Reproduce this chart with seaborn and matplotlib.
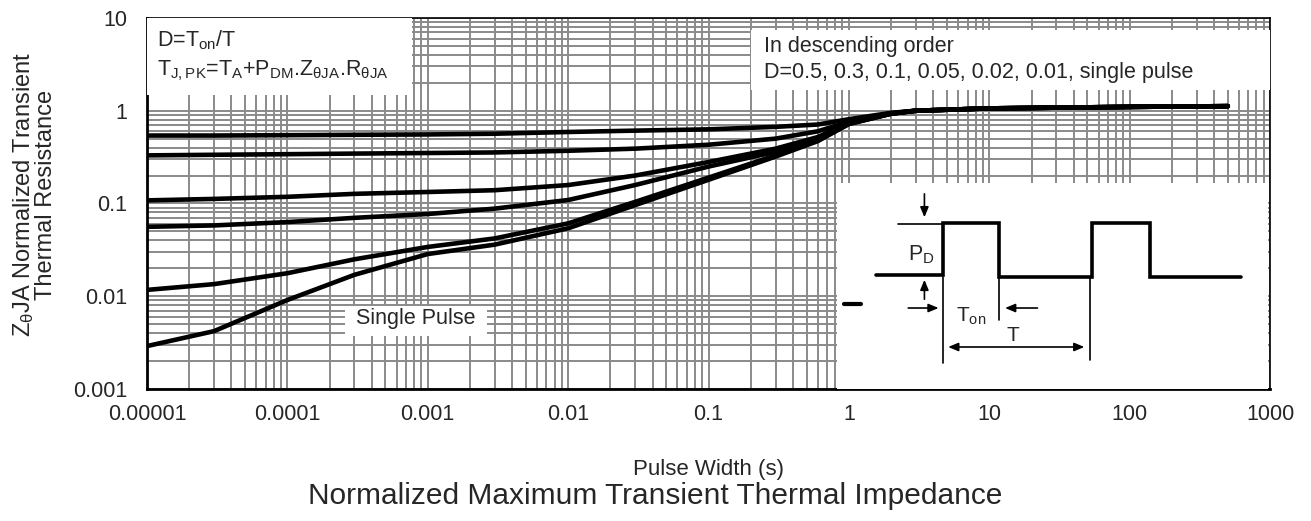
import numpy as np
import pandas as pd
import matplotlib
matplotlib.use("Agg")
import matplotlib.pyplot as plt
import matplotlib.ticker as mticker
from matplotlib.patches import Rectangle
import seaborn as sns

# Pulse width (s) and normalized Z for each duty cycle
pulse_width = [1e-5, 3e-5, 1e-4, 3e-4, 1e-3, 3e-3, 1e-2, 3e-2, 0.1, 0.3, 0.6, 1, 2, 3, 10, 100, 500]
z_d05 = [0.54, 0.54, 0.545, 0.55, 0.555, 0.565, 0.59, 0.61, 0.63, 0.67, 0.71, 0.81, 0.95, 1.0, 1.06, 1.1, 1.12]
z_d03 = [0.33, 0.335, 0.34, 0.345, 0.35, 0.355, 0.37, 0.39, 0.43, 0.50, 0.60, 0.76, 0.94, 1.0, 1.06, 1.1, 1.12]
z_d01 = [0.108, 0.112, 0.118, 0.127, 0.133, 0.139, 0.158, 0.20, 0.28, 0.39, 0.52, 0.74, 0.93, 1.0, 1.06, 1.1, 1.12]
z_d005 = [0.056, 0.058, 0.063, 0.070, 0.077, 0.088, 0.109, 0.158, 0.25, 0.36, 0.50, 0.73, 0.93, 1.0, 1.06, 1.1, 1.12]
z_d002 = [0.0117, 0.0135, 0.0177, 0.025, 0.034, 0.042, 0.061, 0.104, 0.19, 0.33, 0.48, 0.72, 0.93, 1.0, 1.06, 1.1, 1.12]
z_single = [0.0029, 0.0042, 0.0091, 0.017, 0.0285, 0.036, 0.054, 0.096, 0.18, 0.32, 0.47, 0.72, 0.93, 1.0, 1.06, 1.1, 1.12]

series = {
    "0.5": z_d05,
    "0.3": z_d03,
    "0.1": z_d01,
    "0.05": z_d005,
    "0.02": z_d002,
    "single": z_single,
}

x_ticks = [1e-5, 1e-4, 1e-3, 1e-2, 1e-1, 1, 10, 100, 1000]
x_labels = ["0.00001", "0.0001", "0.001", "0.01", "0.1", "1", "10", "100", "1000"]
y_ticks = [0.001, 0.01, 0.1, 1, 10]
y_labels = ["0.001", "0.01", "0.1", "1", "10"]

# inset pulse diagram (drawing units of the inset box)
wave_x = [877, 945, 945, 1001, 1001, 1094, 1094, 1152, 1152, 1243]
wave_y = [275, 275, 223, 223, 277, 277, 223, 223, 277, 277]

rows = []
for name, vals in series.items():
    for x, z in zip(pulse_width, vals):
        rows.append({"pulse": x, "z": z, "D": name})
df = pd.DataFrame(rows)

sns.set_style("white")
plt.rcParams["font.family"] = ["Liberation Sans", "DejaVu Sans"]
plt.rcParams["mathtext.default"] = "regular"

fig = plt.figure(figsize=(13.11, 5.21), dpi=100)
ax = fig.add_axes([0.1121, 0.2534, 0.8567, 0.7121])

sns.lineplot(
    data=df,
    x="pulse",
    y="z",
    hue="D",
    palette=["black"] * len(series),
    linewidth=3.3,
    legend=False,
    ax=ax,
    zorder=5
)

ax.set_xscale("log")
ax.set_yscale("log")
ax.set_xlim(1e-5, 1000)
ax.set_ylim(0.001, 10)

ax.xaxis.set_major_locator(mticker.FixedLocator(x_ticks))
ax.xaxis.set_major_formatter(mticker.FixedFormatter(x_labels))
ax.yaxis.set_major_locator(mticker.FixedLocator(y_ticks))
ax.yaxis.set_major_formatter(mticker.FixedFormatter(y_labels))
ax.xaxis.set_minor_locator(mticker.LogLocator(base=10, subs=np.arange(2, 10), numticks=50))
ax.yaxis.set_minor_locator(mticker.LogLocator(base=10, subs=np.arange(2, 10), numticks=50))
ax.xaxis.set_minor_formatter(mticker.NullFormatter())
ax.yaxis.set_minor_formatter(mticker.NullFormatter())

ax.grid(True, which="both", color="#8a8a8a", linewidth=1.4)
ax.set_axisbelow(True)
ax.tick_params(which="both", length=0, labelsize=15.5)
ax.tick_params(axis="x", pad=11)
ax.tick_params(axis="y", pad=14)

for s in ax.spines.values():
    s.set_color("black")
    s.set_linewidth(1.2)
ax.spines["left"].set_linewidth(2)
ax.spines["bottom"].set_linewidth(2)

ax.set_xlabel("Pulse Width (s)", fontsize=16)
ax.xaxis.set_label_coords(0.5, -0.188)
ax.set_ylabel("Z$_{\\theta}$JA Normalized Transient\nThermal Resistance",
              fontsize=17, linespacing=0.95)
ax.yaxis.set_label_coords(-0.080, 0.523)

# white note boxes
ax.add_patch(Rectangle((0, 0.792), 0.236, 0.208, transform=ax.transAxes,
                       facecolor="white", edgecolor="none", zorder=3))
ax.text(0.009, 0.940, "D=T$_{on}$/T", transform=ax.transAxes,
        fontsize=15.5, va="center", ha="left", zorder=4)
ax.text(0.009, 0.858, "T$_{J,PK}$=T$_A$+P$_{DM}$.Z$_{\\theta JA}$.R$_{\\theta JA}$",
        transform=ax.transAxes, fontsize=15.5, va="center", ha="left", zorder=4)

ax.add_patch(Rectangle((0.538, 0.806), 0.462, 0.162, transform=ax.transAxes,
                       facecolor="white", edgecolor="none", zorder=3))
ax.text(0.549, 0.922, "In descending order", transform=ax.transAxes,
        fontsize=15.5, va="center", ha="left", zorder=4)
ax.text(0.549, 0.852, "D=0.5, 0.3, 0.1, 0.05, 0.02, 0.01, single pulse",
        transform=ax.transAxes, fontsize=15.5, va="center", ha="left", zorder=4)

ax.add_patch(Rectangle((0.176, 0.143), 0.127, 0.081, transform=ax.transAxes,
                       facecolor="white", edgecolor="none", zorder=3))
ax.text(0.2395, 0.191, "Single Pulse", transform=ax.transAxes,
        fontsize=15.5, va="center", ha="center", zorder=4)

# inset with the pulse train
ins = ax.inset_axes([0.614, 0.0, 0.384, 0.555], zorder=6)
ins.set_facecolor("white")
ins.set_xlim(838, 1270)
ins.set_ylim(389, 183)
ins.set_xticks([])
ins.set_yticks([])
for s in ins.spines.values():
    s.set_visible(False)

ins.plot(wave_x, wave_y, color="black", linewidth=2.6, solid_joinstyle="miter")
ins.plot([900, 945], [224, 224], color="black", linewidth=1.2)
ins.plot([945, 945], [277, 363], color="black", linewidth=1.2)
ins.plot([1001, 1001], [277, 320], color="black", linewidth=1.2)
ins.plot([1092, 1092], [277, 360], color="black", linewidth=1.2)
ins.plot([845, 862], [304, 304], color="black", linewidth=3)

arrow = dict(arrowstyle="-|>,head_length=0.6,head_width=0.25", color="black", lw=1.2)
ins.annotate("", xy=(926, 220), xytext=(926, 191), arrowprops=arrow)
ins.annotate("", xy=(926, 277), xytext=(926, 302), arrowprops=arrow)
ins.annotate("", xy=(943, 308), xytext=(907, 308), arrowprops=arrow)
ins.annotate("", xy=(1004, 308), xytext=(1042, 308), arrowprops=arrow)
ins.annotate("", xy=(1089, 347), xytext=(947, 347),
             arrowprops=dict(arrowstyle="<|-|>,head_length=0.6,head_width=0.25", color="black", lw=1.2))

ins.text(923, 255, "P$_D$", fontsize=15.5, ha="center", va="center")
ins.text(973, 316, "T$_{on}$", fontsize=15, ha="center", va="center")
ins.text(1015, 335, "T", fontsize=15, ha="center", va="center")

fig.text(0.5, 0.048, "Normalized Maximum Transient Thermal Impedance",
         fontsize=21.5, ha="center", va="center")

plt.savefig("out.png", dpi=100)
plt.close()
